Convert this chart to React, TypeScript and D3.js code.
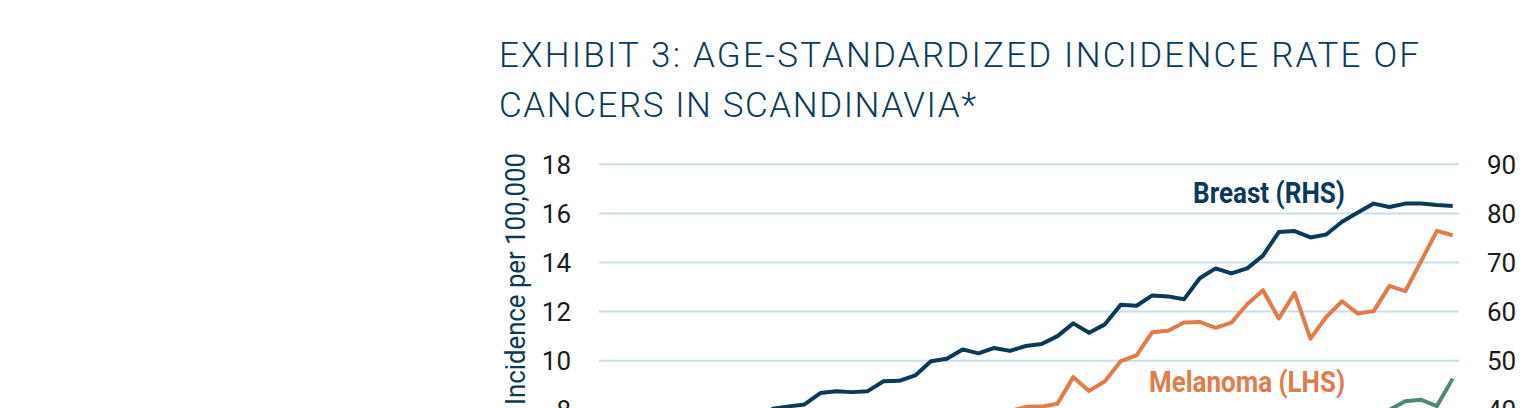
import React from 'react'
import * as d3 from 'd3'

// years on the x axis (1962 - 2016)
const years = d3.range(1962, 2017)

// Breast, incidence per 100,000 (right-hand scale)
const breast = [
  31.0, 31.6, 32.0, 32.9, 33.4, 34.0, 34.8, 35.5, 36.3, 37.0, 38.2, 40.2, 40.7,
  41.1, 43.4, 43.8, 43.6, 43.8, 45.8, 45.9, 47.0, 49.9, 50.4, 52.3, 51.5, 52.6,
  52.0, 53.0, 53.4, 55.0, 57.6, 55.7, 57.4, 61.4, 61.2, 63.3, 63.1, 62.5, 66.8,
  68.8, 67.8, 68.8, 71.4, 76.2, 76.4, 75.1, 75.7, 78.3, 80.2, 82.0, 81.3, 82.0,
  82.0, 81.7, 81.5,
]

// Melanoma, incidence per 100,000 (left-hand scale)
const melanoma = [
  3.1, 3.3, 3.4, 3.6, 3.8, 4.0, 4.2, 4.4, 4.6, 4.8, 5.1, 5.3, 5.5, 5.8, 6.0,
  6.2, 6.5, 6.7, 6.9, 7.1, 7.2, 7.4, 7.5, 7.6, 7.7, 7.85, 7.95, 8.12, 8.13, 8.25,
  9.33, 8.77, 9.16, 9.98, 10.22, 11.16, 11.22, 11.56, 11.58, 11.34, 11.55, 12.3,
  12.87, 11.72, 12.76, 10.9, 11.78, 12.42, 11.92, 12.02, 13.05, 12.83, 14.05,
  15.29, 15.11,
]

// third series (green), only its last years rise into view (left-hand scale)
const third = [
  3.4, 3.5, 3.7, 3.8, 4.0, 4.1, 4.4, 4.5, 4.7, 4.8, 5.0, 5.2, 5.3, 5.5, 5.6,
  5.8, 5.9, 6.1, 6.1, 6.3, 6.4, 6.6, 6.6, 6.8, 6.9, 7.0, 7.1, 7.1, 7.3, 7.2,
  7.4, 7.5, 7.4, 7.6, 7.5, 7.7, 7.6, 7.7, 7.8, 7.6, 7.8, 7.7, 7.9, 7.8, 7.7,
  7.9, 7.8, 7.9, 7.8, 7.9, 8.0, 8.35, 8.41, 8.15, 9.27,
]

// tick labels that fall inside the visible window
const leftTicks = [8, 10, 12, 14, 16, 18]
const rightTicks = [40, 50, 60, 70, 80, 90]

const navy = '#0b3a59'
const orange = '#e07b4b'
const green = '#4c8b72'
const grid = '#c9dde7'

export default class App extends React.Component {
  svgRef = React.createRef<SVGSVGElement>()

  drawChart() {
    const svg = d3.select(this.svgRef.current)
    svg.selectAll('*').remove()

    const plot = { left: 599, right: 1459, top: 164.3, bottom: 606.2 }

    const x = d3.scaleLinear()
      .domain([years[0], years[years.length - 1]])
      .range([599, 1452.7])
    const yL = d3.scaleLinear().domain([0, 18]).range([plot.bottom, plot.top])
    const yR = d3.scaleLinear().domain([0, 90]).range([plot.bottom, plot.top])

    // title
    const title = svg.append('g')
      .attr('font-family', 'Roboto')
      .attr('font-weight', 300)
      .attr('font-size', 35)
      .attr('fill', navy)
    title.append('text').attr('x', 499).attr('y', 67.3)
      .attr('textLength', 920).attr('lengthAdjust', 'spacing')
      .text('EXHIBIT 3: AGE-STANDARDIZED INCIDENCE RATE OF')
    title.append('text').attr('x', 499).attr('y', 117.3)
      .attr('textLength', 477).attr('lengthAdjust', 'spacing')
      .text('CANCERS IN SCANDINAVIA*')

    // gridlines
    svg.append('g').selectAll('line')
      .data(leftTicks)
      .enter().append('line')
      .attr('x1', plot.left).attr('x2', plot.right)
      .attr('y1', d => yL(d)).attr('y2', d => yL(d))
      .attr('stroke', grid).attr('stroke-width', 2)

    // left tick labels
    svg.append('g').selectAll('text')
      .data(leftTicks)
      .enter().append('text')
      .attr('x', 571).attr('y', d => yL(d)).attr('dy', '0.355em')
      .attr('text-anchor', 'end')
      .attr('font-family', 'Roboto').attr('font-size', 26).attr('fill', '#1b1b1b')
      .text(d => d)

    // right tick labels
    svg.append('g').selectAll('text')
      .data(rightTicks)
      .enter().append('text')
      .attr('x', 1487).attr('y', d => yR(d)).attr('dy', '0.355em')
      .attr('font-family', 'Roboto').attr('font-size', 26).attr('fill', '#1b1b1b')
      .text(d => d)

    // y axis title
    svg.append('text')
      .attr('transform', 'translate(525,153) rotate(-90)')
      .attr('text-anchor', 'end')
      .attr('font-family', 'Roboto').attr('font-size', 28).attr('fill', navy)
      .attr('textLength', 252).attr('lengthAdjust', 'spacingAndGlyphs')
      .text('Incidence per 100,000')

    // series
    const lineL = d3.line<number>().x((d, i) => x(years[i])).y(d => yL(d))
    const lineR = d3.line<number>().x((d, i) => x(years[i])).y(d => yR(d))

    svg.append('path').datum(third)
      .attr('d', lineL).attr('fill', 'none')
      .attr('stroke', green).attr('stroke-width', 4).attr('stroke-linejoin', 'round')
    svg.append('path').datum(melanoma)
      .attr('d', lineL).attr('fill', 'none')
      .attr('stroke', orange).attr('stroke-width', 4).attr('stroke-linejoin', 'round')
    svg.append('path').datum(breast)
      .attr('d', lineR).attr('fill', 'none')
      .attr('stroke', navy).attr('stroke-width', 4).attr('stroke-linejoin', 'round')

    // series labels
    const labels = svg.append('g')
      .attr('font-family', 'Roboto').attr('font-weight', 700).attr('font-size', 29)
      .attr('text-anchor', 'end')
    labels.append('text').attr('x', 1345).attr('y', 203.3).attr('fill', navy)
      .attr('textLength', 152).attr('lengthAdjust', 'spacingAndGlyphs')
      .text('Breast (RHS)')
    labels.append('text').attr('x', 1345).attr('y', 392.4).attr('fill', orange)
      .attr('textLength', 196).attr('lengthAdjust', 'spacingAndGlyphs')
      .text('Melanoma (LHS)')
  }

  componentDidMount() {
    document.body.style.margin = '0'
    this.drawChart()
  }

  render() {
    return <svg ref={this.svgRef} width={1536} height={408}
      style={{ display: 'block', overflow: 'hidden' }} />
  }
}
